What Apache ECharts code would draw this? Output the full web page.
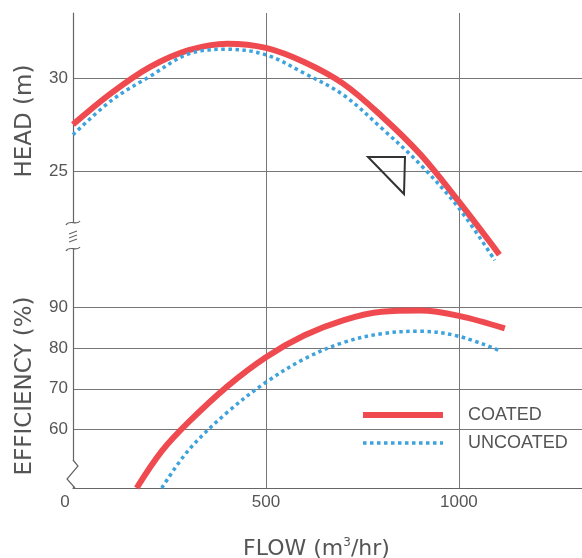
<!DOCTYPE html>
<html>
<head>
<meta charset="utf-8">
<style>
  html, body { margin: 0; padding: 0; background: #fff; }
  #main { width: 582px; height: 558px; }
</style>
<script src="https://cdn.jsdelivr.net/npm/echarts@6/dist/echarts.min.js"></script>
</head>
<body>
<div id="main"></div>
<script>
// data: [flow m3/hr, value]
var headCoated = [[0, 27.5], [100, 29.2], [200, 30.6], [300, 31.5], [400, 31.85], [500, 31.62], [600, 30.85], [700, 29.7], [800, 27.95], [900, 25.9], [1000, 23.35], [1105, 20.5]];
var headUncoated = [[0, 26.95], [100, 28.8], [200, 30.1], [300, 31.3], [400, 31.55], [500, 31.25], [600, 30.25], [700, 29.1], [800, 27.3], [900, 25.35], [1000, 23.0], [1093, 20.2]];
var effCoated = [[165, 45.5], [230, 54.6], [300, 61.8], [400, 70.6], [500, 77.8], [600, 83.2], [700, 86.9], [800, 89.0], [900, 89.3], [1000, 88.0], [1119, 84.9]];
var effUncoated = [[230, 45.5], [300, 54.9], [400, 64.2], [500, 71.6], [600, 77.4], [700, 81.4], [800, 83.6], [900, 84.2], [1000, 82.95], [1106, 79.4]];
var flowTicks = [0, 500, 1000];
var headTicks = [25, 30];
var effTicks = [60, 70, 80, 90];

var red = '#ef4a4f';
var blue = '#3ea3dd';
var txt = '#555';
var font = 'Liberation Sans';
var nameFont = 'DejaVu Sans';

var chart = echarts.init(document.getElementById('main'));

var gridLine = { show: true, lineStyle: { color: '#777', width: 1 } };
var breakStyle = { stroke: '#666', lineWidth: 1.2, fill: null };

var option = {
  animation: false,
  textStyle: { fontFamily: font },
  grid: [
    { left: 73, right: 0, top: 13, height: 251, outerBoundsMode: 'none' },
    { left: 73, right: 0, top: 264, height: 224, outerBoundsMode: 'none' }
  ],
  xAxis: [
    {
      gridIndex: 0, type: 'value', min: 0, max: 1319,
      axisLine: { show: false }, axisTick: { show: false, customValues: flowTicks },
      axisLabel: { show: false, customValues: flowTicks },
      splitLine: gridLine
    },
    {
      gridIndex: 1, type: 'value', min: 0, max: 1319,
      axisLine: { show: true, lineStyle: { color: '#666', width: 1.2 } },
      axisTick: { show: false, customValues: flowTicks },
      axisLabel: {
        customValues: flowTicks, color: txt, fontSize: 17, margin: 6,
        // the 0 sits a little left of the axis in the original
        formatter: function (v) { return v === 0 ? '{z|0}' : String(v); },
        rich: { z: { fontSize: 17, color: txt, padding: [0, 16, 0, 0] } }
      },
      splitLine: gridLine,
      name: 'FLOW (m{s|3}/hr)', nameLocation: 'middle', nameGap: 49,
      nameTextStyle: {
        color: txt, fontSize: 22, fontFamily: nameFont, padding: [0, 22, 0, 0],
        rich: { s: { fontSize: 12, fontFamily: nameFont, padding: [0, 0, 12, 0], color: txt } }
      }
    }
  ],
  yAxis: [
    {
      gridIndex: 0, type: 'value', min: 20, max: 33.5,
      axisLine: { show: true, lineStyle: { color: '#666', width: 1.2 } },
      axisTick: { show: false, customValues: headTicks },
      axisLabel: { customValues: headTicks, color: txt, fontSize: 17, margin: 5 },
      splitLine: gridLine,
      name: 'HEAD (m)', nameLocation: 'middle', nameGap: 36,
      nameTextStyle: { color: txt, fontSize: 23, fontFamily: nameFont, padding: [0, 0, 0, 35] }
    },
    {
      gridIndex: 1, type: 'value', min: 45.5, max: 100.8,
      axisLine: { show: true, lineStyle: { color: '#666', width: 1.2 } },
      axisTick: { show: false, customValues: effTicks },
      axisLabel: { customValues: effTicks, color: txt, fontSize: 17, margin: 5 },
      splitLine: gridLine,
      name: 'EFFICIENCY (%)', nameLocation: 'middle', nameGap: 36,
      nameTextStyle: { color: txt, fontSize: 23, fontFamily: nameFont, padding: [0, 20, 0, 0] }
    }
  ],
  legend: {
    data: ['COATED', 'UNCOATED'],
    orient: 'vertical', left: 360, top: 405, padding: 0,
    itemWidth: 80, itemHeight: 14, itemGap: 8,
    selectedMode: false,
    itemStyle: { color: 'rgba(0,0,0,0)', borderWidth: 0, opacity: 0 },
    lineStyle: { width: 'inherit' },
    textStyle: { color: txt, fontSize: 18, lineHeight: 20, padding: [0, 0, 0, 20] }
  },
  series: [
    {
      name: 'COATED', type: 'line', xAxisIndex: 0, yAxisIndex: 0, data: headCoated,
      smooth: 0.35, symbol: 'none', lineStyle: { color: red, width: 6 }, itemStyle: { color: red }
    },
    {
      name: 'UNCOATED', type: 'line', xAxisIndex: 0, yAxisIndex: 0, data: headUncoated,
      smooth: 0.35, symbol: 'none', lineStyle: { color: blue, width: 3.5, type: [3.5, 3.5] }, itemStyle: { color: blue }
    },
    {
      name: 'COATED', type: 'line', xAxisIndex: 1, yAxisIndex: 1, data: effCoated,
      smooth: 0.35, symbol: 'none', lineStyle: { color: red, width: 6 }, itemStyle: { color: red }
    },
    {
      name: 'UNCOATED', type: 'line', xAxisIndex: 1, yAxisIndex: 1, data: effUncoated,
      smooth: 0.35, symbol: 'none', lineStyle: { color: blue, width: 3.5, type: [3.5, 3.5] }, itemStyle: { color: blue }
    }
  ],
  // axis break marks and the water level triangle
  graphic: [
    { type: 'rect', shape: { x: 64, y: 223, width: 18, height: 26 }, style: { fill: '#fff' }, z: 100 },
    { type: 'bezierCurve', shape: { x1: 66, y1: 225, cpx1: 69, cpy1: 219, cpx2: 77, cpy2: 226, x2: 80, y2: 221 }, style: breakStyle, z: 101 },
    { type: 'bezierCurve', shape: { x1: 66, y1: 251, cpx1: 69, cpy1: 245, cpx2: 77, cpy2: 252, x2: 80, y2: 247 }, style: breakStyle, z: 101 },
    { type: 'line', shape: { x1: 69, y1: 234, x2: 77, y2: 231 }, style: breakStyle, z: 101 },
    { type: 'line', shape: { x1: 69, y1: 238, x2: 77, y2: 235 }, style: breakStyle, z: 101 },
    { type: 'line', shape: { x1: 69, y1: 242, x2: 77, y2: 239 }, style: breakStyle, z: 101 },
    { type: 'rect', shape: { x: 64, y: 461, width: 18, height: 25 }, style: { fill: '#fff' }, z: 100 },
    { type: 'polyline', shape: { points: [[73, 460], [78, 466], [67, 479], [75, 488]] }, style: breakStyle, z: 101 },
    { type: 'polygon', shape: { points: [[368, 157], [405, 157], [404, 194]] }, style: { stroke: '#333', lineWidth: 2, fill: null }, z: 101 }
  ]
};

chart.setOption(option);
</script>
</body>
</html>
